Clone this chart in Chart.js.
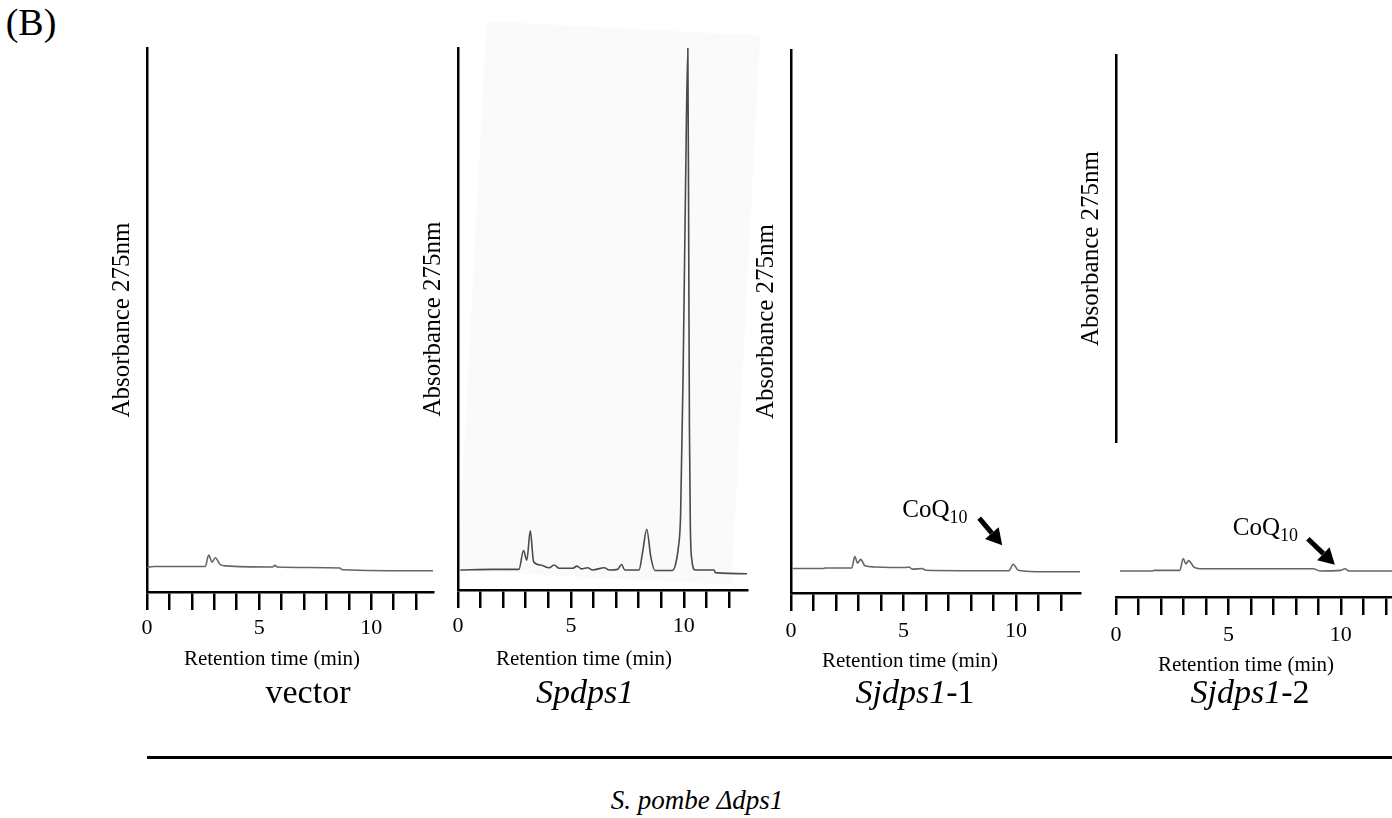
<!DOCTYPE html>
<html>
<head>
<meta charset="utf-8">
<script src="https://cdn.jsdelivr.net/npm/chart.js@4.4.1/dist/chart.umd.min.js"></script>
<style>
  html, body { margin: 0; padding: 0; background: #fff; }
  #fig { position: relative; width: 1392px; height: 818px; overflow: hidden; background: #fff;
         font-family: "Liberation Serif", "Times New Roman", serif; color: #000; }
  #fig canvas { position: absolute; }
  .txt { position: absolute; white-space: nowrap; transform: translate(-50%, -50%); line-height: 1; }
  #shade { position: absolute; left: 472px; top: 28px; width: 274px; height: 550px;
           background: #fafafa; transform: rotate(3deg); }
  #group-rule { position: absolute; left: 147px; top: 756px; width: 1250px; height: 3px; background: #000; }
</style>
</head>
<body>
<div id="fig">
  <div id="shade"></div>
  <div class="txt" style="left:31px; top:22px; font-size:38px;">(B)</div>
  <div id="group-rule"></div>
  <div class="txt" style="left:697px; top:800px; font-size:27px; font-style:italic;">S. pombe &Delta;dps1</div>
</div>

<script>
// retention time (min) / absorbance (arbitrary units)
const vectorTime = [0, 0.3, 2.6, 2.75, 2.9, 3.05, 3.25, 3.5, 5.6, 5.7, 5.8, 8.6, 8.7, 12.75];
const vectorAbs  = [4.5, 4.7, 4.7, 6.8, 5.5, 6.3, 5.1, 4.8, 4.6, 4.9, 4.6, 4.4, 4.1, 3.9];

const spdpsTime = [0.1, 1.5, 2.7, 2.9, 3.05, 3.2, 3.35, 3.67, 4.04, 4.26, 4.48, 5.07, 5.27, 5.47, 5.74, 5.96,
                   6.48, 6.7, 7.07, 7.24, 7.39, 8.02, 8.17, 8.36, 8.54, 8.72, 9.5, 9.62, 9.75, 9.86, 9.97,
                   10.08, 10.18, 10.22, 10.25, 10.29, 10.36, 10.5, 11.34, 11.4, 12.9];
const spdpsAbs  = [3.7, 3.8, 3.8, 7.3, 5.5, 10.9, 5.2, 4.6, 4.1, 4.6, 4.0, 4.0, 4.4, 3.9, 4.1, 3.7,
                   4.1, 3.7, 3.8, 4.7, 3.7, 3.7, 6.8, 11.2, 6.1, 3.6, 3.6, 4.5, 7.5, 14, 40,
                   75, 100, 62, 30, 12, 5.5, 3.7, 3.7, 3.2, 3.0];

const sj1Time = [0.06, 1.45, 1.5, 2.7, 2.84, 2.96, 3.1, 3.29, 3.69, 5.1, 5.24, 5.39, 5.84, 5.99, 9.69, 9.88, 10.1, 11.32, 12.85];
const sj1Abs  = [4.5, 4.5, 4.6, 4.6, 6.7, 5.5, 6.2, 5.0, 4.8, 4.7, 4.8, 4.4, 4.5, 4.2, 4.1, 5.3, 4.2, 3.9, 3.9];

const sj2Time = [0.18, 1.64, 1.68, 2.84, 2.99, 3.11, 3.23, 3.47, 3.73, 8.77, 9.07, 9.99, 10.18, 10.37, 12.9];
const sj2Abs  = [4.8, 4.8, 4.9, 4.9, 7.1, 6.1, 6.7, 5.5, 5.2, 5.2, 4.8, 4.9, 5.2, 4.8, 4.8];

// CoQ10 peak marked with an arrow (time, absorbance)
const coqPeak1 = [9.88, 5.3];
const coqPeak2 = [10.18, 5.2];

const sampleNames = ['vector', 'Spdps1', 'Sjdps1-1', 'Sjdps1-2'];
const labeledTicks = [0, 5, 10];
const xTitle = 'Retention time (min)';
const yTitle = 'Absorbance 275nm';

const serif = '"Liberation Serif", "Times New Roman", serif';
Chart.defaults.font.family = serif;
Chart.defaults.color = '#000';

// layout of the four panels (plot-area corners in page pixels)
const AXIS_W = 40, AXIS_H = 80, PAD_T = 6, PAD_R = 14;
const panels = [
  { time: vectorTime, abs: vectorAbs, left: 147, top: 48, bottom: 592, pxMin: 22.4, tmax: 12.75, color: '#666',
    name: 308, xt: [272, 658], tickPad: 5 },
  { time: spdpsTime, abs: spdpsAbs, left: 458, top: 48, bottom: 590, pxMin: 22.6, tmax: 12.8, color: '#4a4a4a',
    name: 585, xt: [584, 658], tickPad: 5 },
  { time: sj1Time, abs: sj1Abs, left: 791, top: 50, bottom: 593, pxMin: 22.5, tmax: 12.85, color: '#666',
    name: 915, xt: [910, 660], tickPad: 7,
    coq: { peak: coqPeak1, tail: [-34, -46], tip: [-11, -19], text: [-111, -47] } },
  { time: sj2Time, abs: sj2Abs, left: 1116, top: 55, bottom: 597, pxMin: 22.5, tmax: 12.9, color: '#666',
    name: 1250, xt: [1246, 664], tickPad: 7, split: 442,
    coq: { peak: coqPeak2, tail: [-37, -30], tip: [-10, -4], text: [-112, -34] } }
];

// arrow + "CoQ10" label pointing at the CoQ10 peak
const coqArrow = {
  id: 'coqArrow',
  afterDatasetsDraw(chart, args, opts) {
    if (!opts.note) return;
    const { ctx, scales } = chart;
    const n = opts.note;
    const px = scales.x.getPixelForValue(n.peak[0]);
    const py = scales[opts.yAxis].getPixelForValue(n.peak[1]);
    const tx = px + n.tail[0], ty = py + n.tail[1];
    const hx = px + n.tip[0], hy = py + n.tip[1];
    const ang = Math.atan2(hy - ty, hx - tx);
    const headLen = 16, headW = 9;
    const bx = hx - headLen * Math.cos(ang), by = hy - headLen * Math.sin(ang);
    ctx.save();
    ctx.strokeStyle = '#000';
    ctx.fillStyle = '#000';
    ctx.lineWidth = 5;
    ctx.beginPath();
    ctx.moveTo(tx, ty);
    ctx.lineTo(bx, by);
    ctx.stroke();
    ctx.beginPath();
    ctx.moveTo(hx, hy);
    ctx.lineTo(bx + headW * Math.sin(ang), by - headW * Math.cos(ang));
    ctx.lineTo(bx - headW * Math.sin(ang), by + headW * Math.cos(ang));
    ctx.closePath();
    ctx.fill();
    // label
    const lx = px + n.text[0], ly = py + n.text[1];
    ctx.textBaseline = 'alphabetic';
    ctx.textAlign = 'left';
    ctx.font = '25px ' + serif;
    ctx.fillText('CoQ', lx, ly);
    const w = ctx.measureText('CoQ').width;
    ctx.font = '18px ' + serif;
    ctx.fillText('10', lx + w, ly + 6);
    ctx.restore();
  }
};

const fig = document.getElementById('fig');

function addText(x, y, size) {
  const d = document.createElement('div');
  d.className = 'txt';
  d.style.left = x + 'px';
  d.style.top = y + 'px';
  d.style.fontSize = size + 'px';
  fig.appendChild(d);
  return d;
}

panels.forEach((p, i) => {
  const plotW = Math.round(p.tmax * p.pxMin);
  const canvas = document.createElement('canvas');
  const cw = AXIS_W + plotW + PAD_R;
  const ch = PAD_T + (p.bottom - p.top) + AXIS_H;
  canvas.width = cw;
  canvas.height = ch;
  canvas.style.left = (p.left - AXIS_W) + 'px';
  canvas.style.top = (p.top - PAD_T) + 'px';
  canvas.style.width = cw + 'px';
  canvas.style.height = ch + 'px';
  fig.appendChild(canvas);

  const fixW = (s) => { s.width = AXIS_W; };
  const yTitleOpt = { display: true, text: yTitle, font: { size: 25 }, padding: { top: 0, bottom: 0 } };
  const border = { display: true, color: '#000', width: 2.5 };

  const scales = {
    x: {
      type: 'linear', min: 0, max: p.tmax,
      border: border,
      grid: { display: true, drawOnChartArea: false, drawTicks: true, tickLength: 18, color: '#000', lineWidth: 2.5 },
      ticks: {
        stepSize: 1, includeBounds: false, autoSkip: false, maxRotation: 0, padding: p.tickPad,
        font: { size: 22 },
        callback: (v) => labeledTicks.includes(v) ? String(v) : ''
      },
      title: { display: false },
      afterFit: (s) => { s.height = AXIS_H; }
    }
  };
  let yAxis = 'y';
  if (p.split) {
    // trace sits on the lower stacked scale, the short absorbance bar is the upper one
    const upper = p.split - p.top, lower = p.bottom - p.split;
    scales.yb = { type: 'linear', position: 'left', stack: 'abs', stackWeight: lower, min: 0, max: lower / 5.43,
                  border: { display: false }, grid: { display: false }, ticks: { display: false },
                  title: { display: false }, afterFit: fixW };
    scales.ya = { type: 'linear', position: 'left', stack: 'abs', stackWeight: upper, min: 0, max: 1,
                  border: border, grid: { display: false }, ticks: { display: false },
                  title: yTitleOpt, afterFit: fixW };
    yAxis = 'yb';
  } else {
    scales.y = { type: 'linear', position: 'left', min: 0, max: 100,
                 border: border, grid: { display: false }, ticks: { display: false },
                 title: yTitleOpt, afterFit: fixW };
  }

  new Chart(canvas.getContext('2d'), {
    type: 'line',
    data: {
      datasets: [{
        data: p.time.map((t, k) => ({ x: t, y: p.abs[k] })),
        yAxisID: yAxis,
        borderColor: p.color,
        borderWidth: 1.6,
        pointRadius: 0,
        cubicInterpolationMode: 'monotone',
        fill: false
      }]
    },
    options: {
      responsive: false,
      animation: false,
      devicePixelRatio: 1,
      layout: { padding: { top: PAD_T, right: PAD_R, left: 0, bottom: 0 } },
      scales: scales,
      plugins: {
        legend: { display: false },
        tooltip: { enabled: false },
        coqArrow: { note: p.coq || null, yAxis: yAxis }
      }
    },
    plugins: [coqArrow]
  });

  // x-axis title, set a little left of centre as in the figure
  addText(p.xt[0], p.xt[1], 21).textContent = xTitle;

  // sample name under each panel
  const lab = addText(p.name, 692, 34);
  const name = sampleNames[i];
  if (i === 0) {
    lab.textContent = name;
  } else {
    const dash = name.indexOf('-');
    const gene = document.createElement('i');
    gene.textContent = dash < 0 ? name : name.slice(0, dash);
    lab.appendChild(gene);
    if (dash >= 0) lab.appendChild(document.createTextNode(name.slice(dash)));
  }
});
</script>
</body>
</html>
